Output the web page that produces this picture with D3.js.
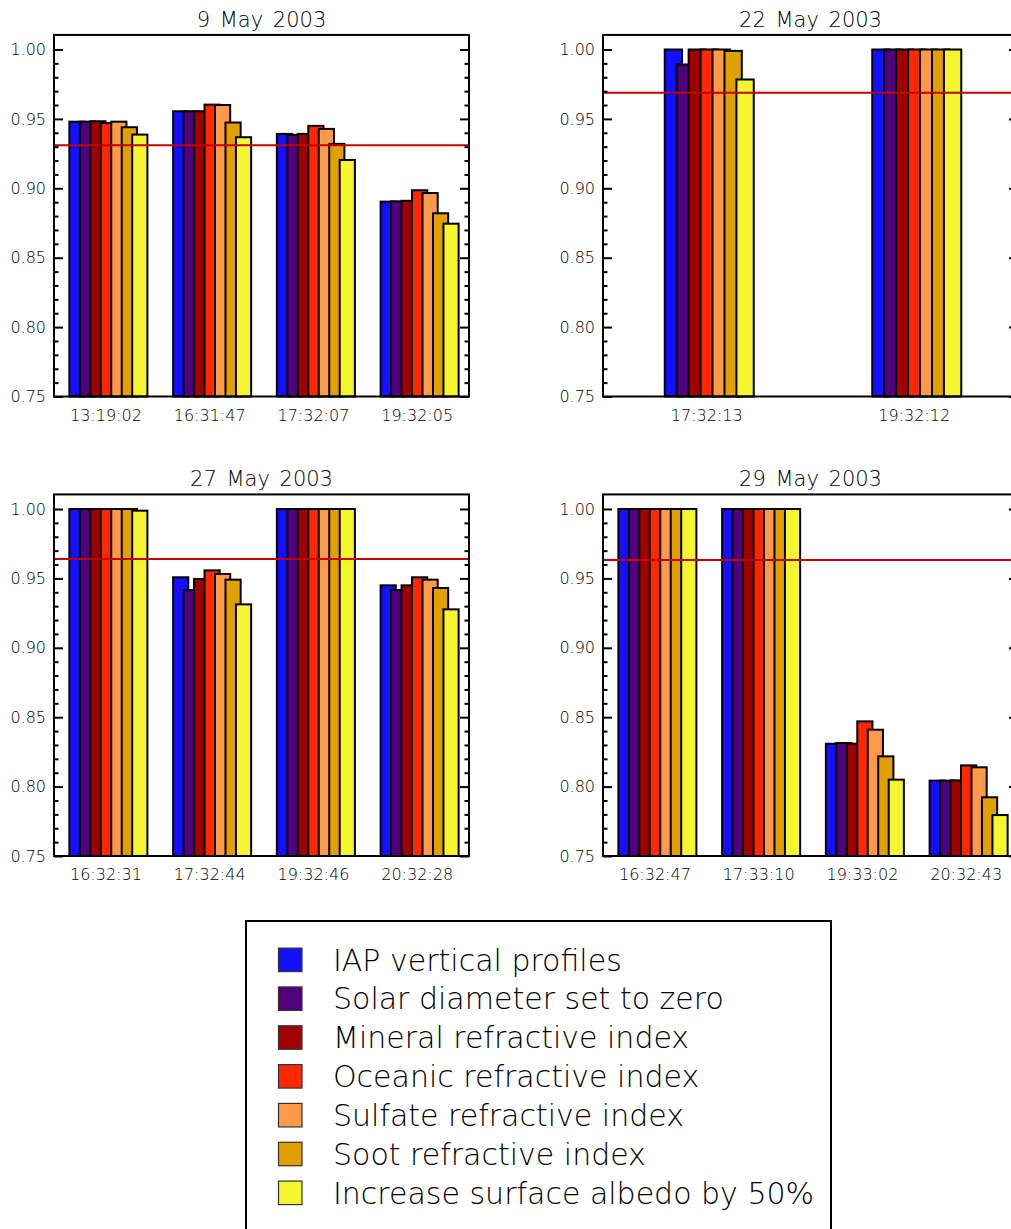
<!DOCTYPE html>
<html>
<head>
<meta charset="utf-8">
<script src="https://cdn.jsdelivr.net/npm/d3@7"></script>
<style>
  html, body { margin: 0; padding: 0; background: #ffffff; }
  svg { display: block; font-family: "DejaVu Sans", sans-serif; }
  .axis text { font-family: "DejaVu Sans", sans-serif; font-size: 16px; fill: #000; font-weight: 300; }
  .axis line { stroke: #000; stroke-width: 2px; }
  .axis path { display: none; }
  .title { font-family: "DejaVu Sans", sans-serif; font-size: 21px; word-spacing: 3px; font-weight: 300; }
  .legend-label { font-family: "DejaVu Sans", sans-serif; font-size: 30px; font-weight: 200; }
</style>
</head>
<body>
<svg id="chart" width="1011" height="1229"></svg>
<script>
// Sensitivity-test series, in drawing order within each group
const seriesNames = [
  "IAP vertical profiles",
  "Solar diameter set to zero",
  "Mineral refractive index",
  "Oceanic refractive index",
  "Sulfate refractive index",
  "Soot refractive index",
  "Increase surface albedo by 50%"
];
const seriesColors = ["#1410ff", "#50007f", "#a00000", "#ff2800", "#ff9a48", "#e0a000", "#f5f530"];

const panelTitles = ["9 May 2003", "22 May 2003", "27 May 2003", "29 May 2003"];

// Observation times (categories) for each day
const times09May = ["13:19:02", "16:31:47", "17:32:07", "19:32:05"];
const times22May = ["17:32:13", "19:32:12"];
const times27May = ["16:32:31", "17:32:44", "19:32:46", "20:32:28"];
const times29May = ["16:32:47", "17:33:10", "19:33:02", "20:32:43"];

// Values per observation time, one per series
const values09May = [
  [0.948, 0.948, 0.9483, 0.947, 0.948, 0.944, 0.9387],
  [0.9555, 0.9555, 0.9555, 0.9603, 0.960, 0.9474, 0.9368],
  [0.9392, 0.9385, 0.9392, 0.945, 0.9428, 0.932, 0.9204],
  [0.8904, 0.8906, 0.891, 0.8986, 0.8966, 0.882, 0.8745]
];
const values22May = [
  [1.000, 0.9892, 1.000, 1.000, 1.000, 0.999, 0.9784],
  [1.000, 1.000, 1.000, 1.000, 1.000, 1.000, 1.000]
];
const values27May = [
  [1.000, 1.000, 1.000, 1.000, 1.000, 1.000, 0.9988],
  [0.9508, 0.9416, 0.9496, 0.9558, 0.9532, 0.9491, 0.9313],
  [1.000, 1.000, 1.000, 1.000, 1.000, 1.000, 1.000],
  [0.945, 0.9416, 0.945, 0.9508, 0.9491, 0.9431, 0.9277]
];
const values29May = [
  [1.000, 1.000, 1.000, 1.000, 1.000, 1.000, 1.000],
  [1.000, 1.000, 1.000, 1.000, 1.000, 1.000, 1.000],
  [0.8309, 0.8314, 0.8309, 0.847, 0.841, 0.8218, 0.805],
  [0.8043, 0.8043, 0.8045, 0.8153, 0.8139, 0.7923, 0.7795]
];

// Daily reference level (horizontal line)
const referenceLevels = [0.9311, 0.9688, 0.9639, 0.9632];

// Axis ticks
const yMajorTicks = [0.75, 0.80, 0.85, 0.90, 0.95, 1.00];
const yMinorTicks = [0.76, 0.77, 0.78, 0.79, 0.81, 0.82, 0.83, 0.84, 0.86, 0.87, 0.88, 0.89,
                     0.91, 0.92, 0.93, 0.94, 0.96, 0.97, 0.98, 0.99];
const yDomain = [0.75, 1.0105];

const svg = d3.select("#chart");

const panels = [
  { title: panelTitles[0], cats: times09May, vals: values09May, ref: referenceLevels[0],
    left: 54, right: 469, bottom: 396.5, top0: 49.5, groupFrac: 0.752, titleY: 26.7 },
  { title: panelTitles[1], cats: times22May, vals: values22May, ref: referenceLevels[1],
    left: 603, right: 1018, bottom: 396.5, top0: 49.5, groupFrac: 0.429, titleY: 26.7 },
  { title: panelTitles[2], cats: times27May, vals: values27May, ref: referenceLevels[2],
    left: 54, right: 469, bottom: 856, top0: 509, groupFrac: 0.752, titleY: 486 },
  { title: panelTitles[3], cats: times29May, vals: values29May, ref: referenceLevels[3],
    left: 603, right: 1018, bottom: 856, top0: 509, groupFrac: 0.752, titleY: 486 }
];

panels.forEach(p => {
  const g = svg.append("g");

  // value scale: 0.75 at the bottom axis, 1.00 at top0
  const perUnit = (p.bottom - p.top0) / 0.25;
  const y = d3.scaleLinear()
    .domain(yDomain)
    .range([p.bottom, p.bottom - perUnit * (yDomain[1] - yDomain[0])]);

  const x = d3.scaleBand().domain(p.cats).range([p.left, p.right]).padding(0);
  const groupW = x.bandwidth() * p.groupFrac;
  const step = groupW / (6 + 1.45);
  const barW = step * 1.45;
  const inner = d3.scaleBand().domain(seriesNames).range([0, 7 * step]).padding(0);
  const groupStart = c => x(c) + (x.bandwidth() - groupW) / 2 + 2.5;

  // bars: each series overlaps the previous one
  p.cats.forEach((c, gi) => {
    seriesNames.forEach((s, si) => {
      const v = p.vals[gi][si];
      g.append("rect")
        .attr("x", groupStart(c) + inner(s))
        .attr("y", y(v))
        .attr("width", barW)
        .attr("height", y(yDomain[0]) - y(v))
        .attr("fill", seriesColors[si])
        .attr("stroke", "#000")
        .attr("stroke-width", 2);
    });
  });

  // reference level
  g.append("line")
    .attr("x1", p.left).attr("x2", p.right)
    .attr("y1", y(p.ref)).attr("y2", y(p.ref))
    .attr("stroke", "#c40000")
    .attr("stroke-width", 2);

  // left axis: major ticks with labels, minor ticks
  g.append("g").attr("class", "axis")
    .attr("transform", `translate(${p.left},0)`)
    .call(d3.axisLeft(y).tickValues(yMajorTicks).tickFormat(d3.format(".2f"))
      .tickSize(-9).tickPadding(8));
  g.append("g").attr("class", "axis")
    .attr("transform", `translate(${p.left},0)`)
    .call(d3.axisLeft(y).tickValues(yMinorTicks).tickFormat("").tickSize(-4.5));

  // right axis: ticks only
  g.append("g").attr("class", "axis")
    .attr("transform", `translate(${p.right},0)`)
    .call(d3.axisRight(y).tickValues(yMajorTicks).tickFormat("").tickSize(-9));
  g.append("g").attr("class", "axis")
    .attr("transform", `translate(${p.right},0)`)
    .call(d3.axisRight(y).tickValues(yMinorTicks).tickFormat("").tickSize(-4.5));

  // category labels
  g.append("g").attr("class", "axis")
    .attr("transform", `translate(0,${p.bottom})`)
    .call(d3.axisBottom(x).tickSize(0).tickPadding(13));

  // frame
  g.append("rect")
    .attr("x", p.left).attr("y", y(yDomain[1]))
    .attr("width", p.right - p.left)
    .attr("height", y(yDomain[0]) - y(yDomain[1]))
    .attr("fill", "none")
    .attr("stroke", "#000")
    .attr("stroke-width", 2);

  // title
  g.append("text")
    .attr("class", "title")
    .attr("x", (p.left + p.right) / 2)
    .attr("y", p.titleY)
    .attr("text-anchor", "middle")
    .attr("fill", "#000")
    .text(p.title);
});

// legend
const legend = svg.append("g");
legend.append("rect")
  .attr("x", 246).attr("y", 921)
  .attr("width", 585).attr("height", 400)
  .attr("fill", "none").attr("stroke", "#000").attr("stroke-width", 2);

const rowY = d3.scaleBand().domain(seriesNames).range([940.6, 940.6 + 7 * 38.83]).padding(0);
seriesNames.forEach((s, i) => {
  legend.append("rect")
    .attr("x", 278.5).attr("y", rowY(s) + 7.5)
    .attr("width", 23.5).attr("height", 23.5)
    .attr("fill", seriesColors[i])
    .attr("stroke", "#333").attr("stroke-width", 1.2);
  legend.append("text")
    .attr("class", "legend-label")
    .attr("x", 333).attr("y", rowY(s) + 30)
    .attr("fill", "#000")
    .text(s);
});
</script>
</body>
</html>
